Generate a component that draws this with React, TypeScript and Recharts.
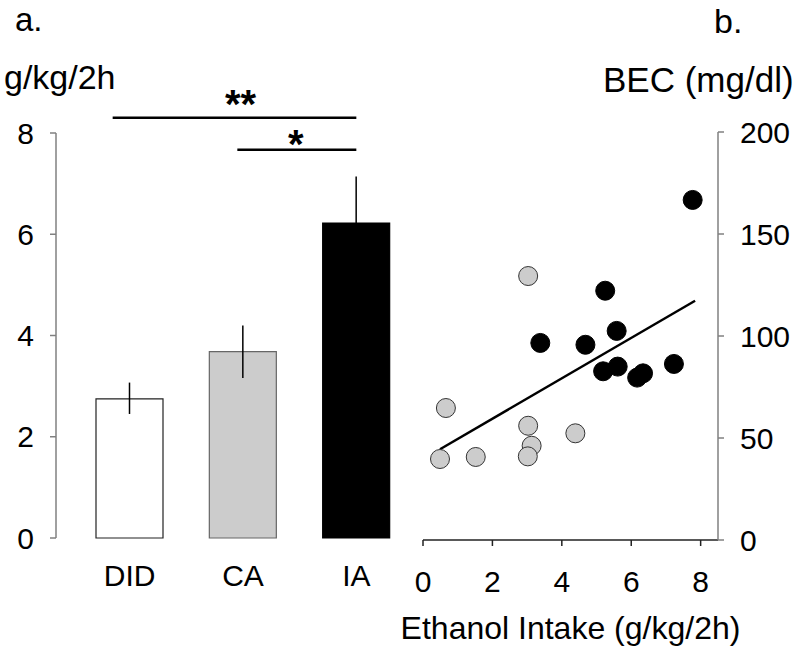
import React from "react";
import {
  BarChart,
  Bar,
  Cell,
  ErrorBar,
  XAxis,
  YAxis,
  ReferenceLine,
  ScatterChart,
  Scatter,
} from "recharts";

// panel a: ethanol intake per group
const groups = ["DID", "CA", "IA"];
const intakeMeans = [2.75, 3.68, 6.22];
const intakeErrLow = [0.3, 0.52, 0.92];
const intakeErrHigh = [0.32, 0.52, 0.92];
const barFills = ["#ffffff", "#cccccc", "#000000"];
const barStrokes = ["#222222", "#666666", "#000000"];
const intakeTicks = [0, 2, 4, 6, 8];

// significance brackets (x in group position units, 1 = DID)
const sigBrackets = [
  { from: 0.85, to: 3.0, y: 8.3, label: "**", offset: 0 },
  { from: 1.95, to: 3.0, y: 7.67, label: "*", offset: -8 },
];

// panel b: BEC vs intake
const grayPoints = [
  { x: 3.03, y: 129.4 },
  { x: 0.66, y: 64.7 },
  { x: 3.03, y: 56 },
  { x: 3.13, y: 46.2 },
  { x: 3.02, y: 41 },
  { x: 0.49, y: 39.7 },
  { x: 1.52, y: 40.7 },
  { x: 4.39, y: 52.3 },
];
const blackPoints = [
  { x: 5.25, y: 122.2 },
  { x: 5.58, y: 102.5 },
  { x: 3.38, y: 96.6 },
  { x: 4.68, y: 95.7 },
  { x: 5.19, y: 82.7 },
  { x: 5.61, y: 85 },
  { x: 6.17, y: 79.6 },
  { x: 6.34, y: 81.7 },
  { x: 7.23, y: 86.3 },
  { x: 7.77, y: 166.7 },
];
const fitLine = [
  { x: 0.49, y: 44.5 },
  { x: 7.84, y: 117.3 },
];
const intakeXTicks = [0, 2, 4, 6, 8];
const becTicks = [0, 50, 100, 150, 200];

const FONT = "'Liberation Sans', Arial, sans-serif";

const barData = groups.map((g, i) => ({
  pos: i + 1,
  name: g,
  mean: intakeMeans[i],
  err: [intakeErrLow[i], intakeErrHigh[i]],
}));

const dot = (fill: string, stroke: string) => (props: any) =>
  <circle cx={props.cx} cy={props.cy} r={9.5} fill={fill} stroke={stroke} strokeWidth={1} />;

const textStyle = (size: number): React.CSSProperties => ({
  position: "absolute",
  fontSize: size,
  lineHeight: 1,
  fontFamily: FONT,
  color: "#000",
  whiteSpace: "nowrap",
});

export default function App() {
  return (
    <div style={{ position: "absolute", left: 0, top: 0, width: 800, height: 653, background: "#fff", fontFamily: FONT }}>
      <div style={{ ...textStyle(33), left: 15, top: 3 }}>a.</div>
      <div style={{ ...textStyle(34), left: 4, top: 60 }}>g/kg/2h</div>
      <div style={{ ...textStyle(34), left: 714, top: 4 }}>b.</div>
      <div style={{ ...textStyle(35), left: 603, top: 62 }}>BEC (mg/dl)</div>

      <div style={{ position: "absolute", left: 0, top: 0 }}>
        <BarChart width={420} height={653} data={barData} margin={{ top: 133, right: 7, bottom: 0, left: 0 }}>
          <XAxis
            dataKey="pos"
            type="number"
            domain={[0.35, 3.5]}
            ticks={[1, 2, 3]}
            tickFormatter={(v: number) => groups[v - 1]}
            allowDataOverflow
            axisLine={false}
            tickLine={false}
            tickSize={0}
            tickMargin={27}
            height={115}
            tick={{ fill: "#000", fontSize: 30, fontFamily: FONT }}
          />
          <YAxis
            domain={[0, 8]}
            ticks={intakeTicks}
            width={56}
            axisLine={{ stroke: "#808080", strokeWidth: 1.5 }}
            tickLine={{ stroke: "#808080", strokeWidth: 1.5 }}
            tickSize={6}
            tickMargin={16}
            tick={{ fill: "#000", fontSize: 30, fontFamily: FONT }}
          />
          <Bar dataKey="mean" barSize={67} isAnimationActive={false}>
            {barData.map((d, i) => (
              <Cell key={d.name} fill={barFills[i]} stroke={barStrokes[i]} strokeWidth={1.2} />
            ))}
            <ErrorBar dataKey="err" direction="y" width={0} stroke="#000" strokeWidth={1.5} />
          </Bar>
          {sigBrackets.map((s) => (
            <ReferenceLine
              key={s.label}
              segment={[
                { x: s.from, y: s.y },
                { x: s.to, y: s.y },
              ]}
              ifOverflow="visible"
              stroke="#000"
              strokeWidth={2.5}
              label={{
                value: s.label,
                position: "top",
                offset: s.offset,
                dx: s.label === "**" ? 6 : -1,
                fill: "#000",
                fontSize: 40,
                fontWeight: "bold",
                fontFamily: FONT,
              }}
            />
          ))}
        </BarChart>
      </div>

      <div style={{ position: "absolute", left: 400, top: 0 }}>
        <ScatterChart width={400} height={653} margin={{ top: 132, right: 0, bottom: 0, left: 23 }}>
          <XAxis
            dataKey="x"
            type="number"
            domain={[0, 8.5]}
            ticks={intakeXTicks}
            allowDataOverflow
            height={113}
            axisLine={{ stroke: "#222", strokeWidth: 1.5 }}
            tickLine={{ stroke: "#222", strokeWidth: 1.5 }}
            tickSize={6}
            tickMargin={25}
            tick={{ fill: "#000", fontSize: 30, fontFamily: FONT }}
            label={{
              value: "Ethanol Intake (g/kg/2h)",
              position: "insideBottom",
              offset: 14,
              fill: "#000",
              fontSize: 32,
              fontFamily: FONT,
            }}
          />
          <YAxis
            dataKey="y"
            type="number"
            orientation="right"
            domain={[0, 200]}
            ticks={becTicks}
            width={82}
            axisLine={{ stroke: "#808080", strokeWidth: 1.5 }}
            tickLine={{ stroke: "#808080", strokeWidth: 1.5 }}
            tickSize={6}
            tickMargin={16}
            tick={{ fill: "#000", fontSize: 30, fontFamily: FONT, textAnchor: "start" }}
          />
          <ReferenceLine segment={fitLine} stroke="#000" strokeWidth={2.5} ifOverflow="visible" />
          <Scatter data={grayPoints} shape={dot("#cccccc", "#333333")} isAnimationActive={false} />
          <Scatter data={blackPoints} shape={dot("#000000", "#000000")} isAnimationActive={false} />
        </ScatterChart>
      </div>
    </div>
  );
}
